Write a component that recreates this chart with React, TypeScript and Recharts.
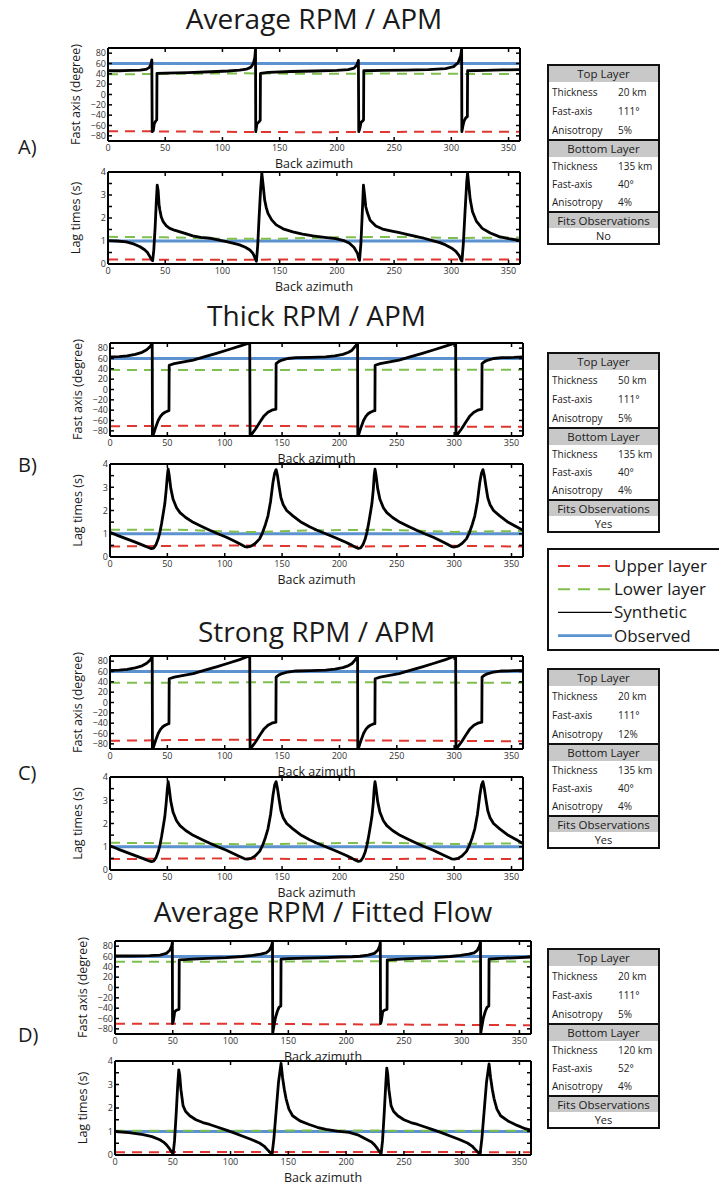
import { Line, LineChart, XAxis, YAxis } from "recharts";

type Pair = [number, number];

const FONT = "'Open Sans', 'DejaVu Sans', sans-serif";
const RED = "#e0362f";
const GREEN = "#7fbf4d";
const BLUE = "#5b92cf";
const INK = "#1a1a1a";

const azTicks = [0, 50, 100, 150, 200, 250, 300, 350];
const fastTicks = [-80, -60, -40, -20, 0, 20, 40, 60, 80];
const lagTicks = [0, 0.5, 1, 1.5, 2, 2.5, 3, 3.5, 4];

// observed splitting, identical in every panel
const observedFast: Pair[] = [[0, 60], [360, 60]];
const observedLag: Pair[] = [[0, 1], [360, 1]];

// A) Average RPM / APM
const synthFastA: Pair[] = [
  [0, 46], [10, 46], [20, 46.5], [28, 47], [33, 48.5], [36, 52], [37.5, 58], [38.3, 67],
  [38.6, -72], [39.6, -70], [40.4, -57], [41.8, -51], [42.6, -49], [42.8, 41], [50, 41.5],
  [70, 42.5], [90, 44], [105, 45.5], [115, 47], [121, 49], [125, 53], [127, 60], [128.3, 72],
  [128.9, 88], [129.1, -72], [130.1, -57], [131.9, -53], [133, -50], [133.2, 41], [140, 43],
  [160, 44.5], [180, 45.5], [200, 46.5], [210, 48], [215, 51], [217.5, 57], [218.8, 66],
  [219.1, -72], [220, -66], [221.1, -54], [222.6, -51], [223.3, -49], [223.5, 46], [240, 46.5],
  [260, 47], [280, 48], [295, 50], [302, 54], [306, 62], [308.2, 75], [309, 88], [309.2, -72],
  [310, -62], [311.2, -51], [312.7, -45], [314, -43], [314.2, 46], [330, 46.5], [345, 47.5], [360, 48],
];
const upperFastA: Pair[] = [[0, -71], [60, -71.5], [120, -72.5], [180, -73], [240, -72.5], [300, -72], [360, -72]];
const lowerFastA: Pair[] = [[0, 39], [60, 40], [120, 41], [180, 40], [240, 40.5], [300, 40], [360, 39.5]];
const synthLagA: Pair[] = [
  [0, 1.02], [8, 1.0], [16, 0.96], [23, 0.86], [28, 0.75], [32, 0.62], [34.5, 0.5], [36.6, 0.32],
  [38.2, 0.18], [39, 0.14], [40, 0.6], [41.2, 1.6], [42.2, 2.7], [43, 3.43], [43.8, 3.2],
  [44.6, 2.6], [45.3, 2.35], [46.5, 2.05], [48.2, 1.84], [51, 1.66], [54, 1.55], [58, 1.47],
  [63, 1.4], [68, 1.32], [74, 1.22], [81, 1.16], [89, 1.12], [96, 1.05], [103.5, 0.97],
  [110, 0.9], [115, 0.83], [120, 0.73], [124, 0.61], [126.5, 0.47], [128, 0.32], [129.2, 0.16],
  [129.7, 0.12], [130.8, 0.8], [132, 2.0], [133.3, 3.2], [134.4, 3.95], [135.4, 3.5],
  [136.9, 2.78], [138.3, 2.45], [139.8, 2.2], [143, 1.92], [147, 1.7], [153, 1.53],
  [161.5, 1.4], [170, 1.3], [179, 1.22], [189, 1.16], [199, 1.1], [206, 1.02], [211, 0.9],
  [215, 0.72], [218, 0.46], [219.3, 0.2], [219.8, 0.16], [221, 0.9], [222, 2.0], [223.2, 3.43],
  [224.2, 3.0], [225.2, 2.5], [226.5, 2.25], [229, 1.9], [234, 1.65], [240, 1.52], [247, 1.44],
  [254.6, 1.36], [262, 1.28], [269, 1.2], [276, 1.12], [283.5, 1.02], [290, 0.93], [295, 0.83],
  [300, 0.7], [304, 0.55], [307, 0.35], [308.6, 0.16], [309.3, 0.13], [310.5, 0.9], [312, 2.3],
  [313.5, 3.6], [314.2, 3.95], [315.3, 3.4], [316.5, 2.8], [318.5, 2.27], [322, 1.85],
  [327, 1.55], [334, 1.35], [341.8, 1.19], [350, 1.1], [360, 1.02],
];
const upperLagA: Pair[] = [[0, 0.2], [90, 0.18], [180, 0.2], [270, 0.2], [360, 0.2]];
const lowerLagA: Pair[] = [[0, 1.18], [50, 1.16], [100, 1.1], [150, 1.1], [200, 1.16], [250, 1.18], [300, 1.13], [360, 1.15]];

// B) Thick RPM / APM
const synthFastB: Pair[] = [
  [0, 63], [8, 63.5], [15, 65], [22, 68], [28, 72], [32, 77], [35, 83], [36.8, 89], [37, -89],
  [38, -86], [40, -72], [42, -60], [44, -52], [46, -47], [48, -44], [50, -42], [51.4, -41],
  [51.6, 47], [56, 50], [63, 53], [72.5, 57], [82, 63], [92.8, 70], [103, 77], [113, 84],
  [119, 88], [121.8, 90], [122.1, -89], [124, -85], [127, -76], [131, -62], [134, -52],
  [137.7, -44], [141, -40], [144.6, -38], [144.8, 50], [147, 54], [150, 57], [155, 60],
  [162, 61.5], [175, 62], [188, 63], [196, 65], [203, 68], [208, 72], [211, 76], [213.5, 83],
  [215.8, 89], [216, -89], [217, -86], [219, -72], [221, -60], [223, -52], [225, -47], [227, -44],
  [229, -42], [230.9, -41], [231.1, 47], [235.5, 50], [242.5, 53], [252, 57], [261.5, 63],
  [272.3, 70], [282.5, 77], [292.5, 84], [298.5, 88], [301.3, 90], [301.6, -89], [303.5, -85],
  [306.5, -76], [310.5, -62], [313.5, -52], [317.2, -44], [320.5, -40], [324.1, -38], [324.3, 50],
  [326.5, 54], [329.5, 57], [334.5, 60], [341.5, 61.5], [352, 62], [360, 63],
];
const upperFastB: Pair[] = [[0, -71], [90, -70], [180, -71], [270, -72], [360, -72]];
const lowerFastB: Pair[] = [[0, 38], [100, 37.5], [200, 38], [300, 38.5], [360, 38]];
const synthLagB: Pair[] = [
  [0, 1.06], [7, 0.92], [14.5, 0.78], [22, 0.64], [29, 0.5], [33, 0.42], [36, 0.36], [38, 0.38],
  [40, 0.52], [42, 0.78], [43.5, 1.06], [45, 1.45], [46.5, 1.9], [47.8, 2.3], [49, 2.9], [50, 3.5],
  [50.7, 3.78], [51.5, 3.55], [53, 2.95], [55, 2.48], [58, 2.12], [61, 1.91], [66, 1.7],
  [72.5, 1.49], [80, 1.31], [87, 1.15], [94, 1.0], [101.5, 0.85], [107, 0.72], [113, 0.57],
  [117.4, 0.45], [120, 0.43], [123, 0.47], [126.5, 0.58], [130.4, 0.78], [133, 1.05], [135.5, 1.4],
  [137.7, 1.77], [140, 2.4], [142, 3.19], [143.5, 3.6], [144.8, 3.76], [146, 3.5], [147.5, 3.0],
  [149, 2.55], [151, 2.25], [154, 2.0], [159.4, 1.77], [166, 1.52], [174, 1.3], [180, 1.16],
  [188, 1.0], [197, 0.82], [206, 0.62], [211, 0.5], [214, 0.42], [216.5, 0.37], [218.5, 0.39],
  [220.5, 0.53], [222.5, 0.79], [224, 1.07], [225.5, 1.46], [227, 1.9], [228.3, 2.3], [229.5, 2.9],
  [230.3, 3.5], [231, 3.78], [231.8, 3.55], [233.3, 2.95], [235.3, 2.48], [238.3, 2.12],
  [241.3, 1.91], [246.3, 1.7], [252.8, 1.49], [260.3, 1.31], [267.3, 1.15], [274.3, 1.0],
  [281.8, 0.85], [287.3, 0.72], [293.3, 0.57], [297.7, 0.45], [300.3, 0.43], [303.3, 0.47],
  [306.8, 0.58], [310.7, 0.78], [313.3, 1.05], [315.8, 1.4], [318, 1.77], [320.3, 2.4],
  [322.3, 3.19], [323.8, 3.6], [325.1, 3.76], [326.3, 3.5], [327.8, 3.0], [329.3, 2.55],
  [331.3, 2.25], [334.3, 2.0], [339.7, 1.77], [346.3, 1.52], [354.3, 1.3], [360, 1.15],
];
const upperLagB: Pair[] = [[0, 0.45], [100, 0.5], [200, 0.45], [300, 0.48], [360, 0.45]];
const lowerLagB: Pair[] = [[0, 1.17], [60, 1.17], [120, 1.07], [180, 1.15], [240, 1.17], [300, 1.08], [360, 1.12]];

// C) Strong RPM / APM
const synthFastC: Pair[] = [
  [0, 62], [8, 62.5], [15, 64], [22, 67], [28, 71], [32, 76], [35, 82], [36.8, 89], [37, -89],
  [38, -86], [40, -72], [42, -60], [44, -52], [46, -47], [48, -44], [50, -42], [51.4, -41],
  [51.6, 46], [56, 49], [63, 52], [72.5, 56], [82, 62], [92.8, 69], [103, 76], [113, 83],
  [119, 88], [121.8, 90], [122.1, -89], [124, -85], [127, -76], [131, -62], [134, -52],
  [137.7, -44], [141, -40], [144.6, -38], [144.8, 49], [147, 53], [150, 56], [155, 59],
  [162, 61], [175, 61.5], [188, 62.5], [196, 64.5], [203, 67.5], [208, 71.5], [211, 75.5],
  [213.5, 82], [215.8, 89], [216, -89], [217, -86], [219, -72], [221, -60], [223, -52], [225, -47],
  [227, -44], [229, -42], [230.9, -41], [231.1, 46], [235.5, 49], [242.5, 52], [252, 56],
  [261.5, 62], [272.3, 69], [282.5, 76], [292.5, 83], [298.5, 88], [301.3, 90], [301.6, -89],
  [303.5, -85], [306.5, -76], [310.5, -62], [313.5, -52], [317.2, -44], [320.5, -40], [324.1, -38],
  [324.3, 49], [326.5, 53], [329.5, 56], [334.5, 59], [341.5, 61], [352, 61.5], [360, 62],
];
const upperFastC: Pair[] = [[0, -74], [90, -72], [180, -73], [270, -74], [360, -75]];
const lowerFastC: Pair[] = [[0, 38], [120, 39], [240, 39], [360, 38]];
const synthLagC: Pair[] = [
  [0, 1.04], [7, 0.9], [14.5, 0.76], [22, 0.62], [29, 0.49], [33, 0.41], [36, 0.36], [38, 0.38],
  [40, 0.52], [42, 0.78], [43.5, 1.06], [45, 1.45], [46.5, 1.9], [47.8, 2.3], [49, 2.9], [50, 3.5],
  [50.7, 3.8], [51.5, 3.55], [53, 2.95], [55, 2.48], [58, 2.12], [61, 1.91], [66, 1.7],
  [72.5, 1.49], [80, 1.31], [87, 1.15], [94, 1.0], [101.5, 0.85], [107, 0.72], [113, 0.58],
  [117.4, 0.48], [120, 0.47], [123, 0.5], [126.5, 0.6], [130.4, 0.8], [133, 1.06], [135.5, 1.4],
  [137.7, 1.77], [140, 2.4], [142, 3.19], [143.5, 3.65], [144.8, 3.8], [146, 3.5], [147.5, 3.0],
  [149, 2.55], [151, 2.25], [154, 2.0], [159.4, 1.77], [166, 1.52], [174, 1.3], [180, 1.16],
  [188, 1.0], [197, 0.82], [206, 0.62], [211, 0.5], [214, 0.42], [216.5, 0.37], [218.5, 0.39],
  [220.5, 0.53], [222.5, 0.79], [224, 1.07], [225.5, 1.46], [227, 1.9], [228.3, 2.3], [229.5, 2.9],
  [230.3, 3.5], [231, 3.8], [231.8, 3.55], [233.3, 2.95], [235.3, 2.48], [238.3, 2.12],
  [241.3, 1.91], [246.3, 1.7], [252.8, 1.49], [260.3, 1.31], [267.3, 1.15], [274.3, 1.0],
  [281.8, 0.85], [287.3, 0.72], [293.3, 0.58], [297.7, 0.48], [300.3, 0.47], [303.3, 0.5],
  [306.8, 0.6], [310.7, 0.8], [313.3, 1.06], [315.8, 1.4], [318, 1.77], [320.3, 2.4],
  [322.3, 3.19], [323.8, 3.65], [325.1, 3.8], [326.3, 3.5], [327.8, 3.0], [329.3, 2.55],
  [331.3, 2.25], [334.3, 2.0], [339.7, 1.77], [346.3, 1.52], [354.3, 1.3], [360, 1.14],
];
const upperLagC: Pair[] = [[0, 0.47], [90, 0.5], [180, 0.47], [270, 0.48], [360, 0.47]];
const lowerLagC: Pair[] = [[0, 1.17], [60, 1.15], [120, 1.1], [180, 1.15], [240, 1.17], [300, 1.12], [360, 1.15]];

// D) Average RPM / Fitted Flow
const synthFastD: Pair[] = [
  [0, 61], [15, 61], [30, 61.5], [38.8, 62.5], [44.5, 66], [47.4, 72], [49, 80], [49.6, 87],
  [49.8, -70], [50.4, -66], [51.7, -47], [53, -44], [54.6, -43], [55.4, -42], [55.6, 53.5],
  [60, 54], [67.5, 55], [80, 56.5], [96.3, 58], [110, 60], [119, 62], [126, 64.5], [130.8, 67],
  [133.5, 72], [135.3, 80], [136.3, 88], [136.5, -88], [137.5, -75], [138.8, -59], [140.5, -46],
  [142, -38], [143.5, -36], [143.7, 55], [150, 56], [165, 57], [182.5, 58], [195, 59], [205, 59.5],
  [212, 60.5], [218.8, 62.5], [224.5, 66], [227.4, 72], [229, 80], [229.6, 87], [229.8, -70],
  [230.4, -66], [231.7, -47], [233, -44], [234.6, -43], [235.4, -42], [235.6, 53.5], [240, 54],
  [247.5, 55], [260, 56.5], [276.3, 58], [290, 60], [299, 62], [306, 64.5], [310.8, 67],
  [313.5, 72], [315.3, 80], [316.3, 88], [316.5, -88], [317.5, -75], [318.8, -59], [320.5, -46],
  [322, -38], [323.5, -36], [323.7, 55], [330, 56], [345, 57.5], [360, 59],
];
const upperFastD: Pair[] = [[0, -70], [90, -70], [180, -71], [270, -72], [360, -73]];
const lowerFastD: Pair[] = [[0, 50], [120, 50], [240, 51], [360, 50]];
const synthLagD: Pair[] = [
  [0, 1.0], [12, 0.95], [24.4, 0.87], [32, 0.78], [38.8, 0.65], [42, 0.55], [44.6, 0.43],
  [47, 0.28], [48.9, 0.14], [50.3, 0.05], [51.5, 0.6], [53, 1.8], [54.3, 3.0], [55.2, 3.62],
  [56, 3.4], [57, 2.8], [58.9, 2.1], [61, 1.86], [64.7, 1.67], [70, 1.5], [76, 1.38], [81.9, 1.3],
  [89, 1.18], [96.3, 1.06], [103, 0.94], [110.6, 0.8], [118, 0.66], [125, 0.51], [129, 0.38],
  [132, 0.22], [134.5, 0.1], [136, 0.07], [137.5, 0.7], [139.5, 1.9], [141.5, 3.1], [143.7, 3.9],
  [145, 3.3], [146.5, 2.8], [148, 2.4], [150.5, 1.95], [153.7, 1.67], [160, 1.45], [168, 1.3],
  [175, 1.18], [182.5, 1.09], [192, 1.02], [202.6, 0.96], [210, 0.86], [217, 0.68], [222, 0.55],
  [224.6, 0.43], [227, 0.28], [228.9, 0.14], [230.3, 0.05], [231.5, 0.6], [233, 1.8], [234.3, 3.0],
  [235.2, 3.7], [236, 3.45], [237, 2.8], [238.9, 2.1], [241, 1.86], [244.7, 1.67], [250, 1.5],
  [256, 1.38], [261.9, 1.3], [269, 1.18], [276.3, 1.06], [283, 0.94], [290.6, 0.8], [298, 0.66],
  [305, 0.51], [309, 0.38], [312, 0.22], [314.5, 0.1], [316, 0.07], [317.5, 0.7], [319.5, 1.9],
  [321.5, 3.1], [323.7, 3.88], [325, 3.3], [326.5, 2.8], [328, 2.4], [330.5, 1.95], [333.7, 1.67],
  [340, 1.45], [348, 1.26], [355, 1.12], [360, 1.05],
];
const upperLagD: Pair[] = [[0, 0.12], [180, 0.13], [360, 0.12]];
const lowerLagD: Pair[] = [[0, 1.03], [180, 1.04], [360, 1.03]];

// model parameter tables
const layerFields = ["Thickness", "Fast-axis", "Anisotropy"];
const topLayerA = ["20 km", "111°", "5%"];
const bottomLayerA = ["135 km", "40°", "4%"];
const topLayerB = ["50 km", "111°", "5%"];
const bottomLayerB = ["135 km", "40°", "4%"];
const topLayerC = ["20 km", "111°", "12%"];
const bottomLayerC = ["135 km", "40°", "4%"];
const topLayerD = ["20 km", "111°", "5%"];
const bottomLayerD = ["120 km", "52°", "4%"];

const legendLabels = ["Upper layer", "Lower layer", "Synthetic", "Observed"];

type Series = { synth: Pair[]; upper: Pair[]; lower: Pair[] };

const panels = [
  {
    letter: "A)", title: "Average RPM / APM", titleY: 29, letterY: 154, x: 108, w: 412, fastTop: 48,
    lagTop: 172, lagH: 92, tableTop: 64, fits: "No", top: topLayerA, bottom: bottomLayerA,
    fast: { synth: synthFastA, upper: upperFastA, lower: lowerFastA },
    lag: { synth: synthLagA, upper: upperLagA, lower: lowerLagA },
  },
  {
    letter: "B)", title: "Thick RPM / APM", titleY: 326, letterY: 472, x: 110, w: 413, fastTop: 343,
    lagTop: 464, lagH: 93, tableTop: 352, fits: "Yes", top: topLayerB, bottom: bottomLayerB,
    fast: { synth: synthFastB, upper: upperFastB, lower: lowerFastB },
    lag: { synth: synthLagB, upper: upperLagB, lower: lowerLagB },
  },
  {
    letter: "C)", title: "Strong RPM / APM", titleY: 642, letterY: 780, x: 110, w: 413, fastTop: 656,
    lagTop: 777, lagH: 93, tableTop: 668, fits: "Yes", top: topLayerC, bottom: bottomLayerC,
    fast: { synth: synthFastC, upper: upperFastC, lower: lowerFastC },
    lag: { synth: synthLagC, upper: upperLagC, lower: lowerLagC },
  },
  {
    letter: "D)", title: "Average RPM / Fitted Flow", titleY: 922, letterY: 1042, x: 115, w: 416, fastTop: 941,
    lagTop: 1061, lagH: 94, tableTop: 948, fits: "Yes", top: topLayerD, bottom: bottomLayerD,
    fast: { synth: synthFastD, upper: upperFastD, lower: lowerFastD },
    lag: { synth: synthLagD, upper: upperLagD, lower: lowerLagD },
  },
];

const FAST_H = 93;
// room around each plot box for the axes: left labels, bottom labels, top/right frame axes
const AX = { left: 30, bottom: 16, top: 1, right: 1 };
const M = { top: 8, right: 4, bottom: 2, left: 0 };

const rows = (p: Pair[]) => p.map(([az, v]) => ({ az, v }));
const fmt = (v: number) => (v < 0 ? `\u2212${-v}` : `${v}`);

const tickText = { fontSize: 9, fill: "#333", fontFamily: FONT };

const bottomTick = (p: any) => (
  <g>
    <line x1={p.x} x2={p.x} y1={p.y} y2={p.y - 4} stroke="#000" strokeWidth={1.5} />
    <text x={p.x} y={p.y + 9.5} textAnchor="middle" {...tickText}>{p.payload.value}</text>
  </g>
);
const topTick = (p: any) => <line x1={p.x} x2={p.x} y1={p.y} y2={p.y + 4} stroke="#000" strokeWidth={1.5} />;
const rightTick = (p: any) => <line x1={p.x} x2={p.x - 4} y1={p.y} y2={p.y} stroke="#000" strokeWidth={1.5} />;
const leftTick = (p: any) => {
  const v = p.payload.value as number;
  return (
    <g>
      <line x1={p.x} x2={p.x + 4} y1={p.y} y2={p.y} stroke="#000" strokeWidth={1.5} />
      {Number.isInteger(v) && (
        <text x={p.x - 2} y={p.y + 3.3} textAnchor="end" {...tickText}>{fmt(v)}</text>
      )}
    </g>
  );
};

const frame = { stroke: "#000", strokeWidth: 2 };

function SplitPlot({ x, y, w, h, domain, ticks, s }: {
  x: number; y: number; w: number; h: number; domain: [number, number]; ticks: number[]; s: Series;
}) {
  const observed = domain[1] > 10 ? observedFast : observedLag;
  const left = M.left + AX.left;
  const top = M.top + AX.top;
  return (
    <div style={{ position: "absolute", left: x - left, top: y - top }}>
      <LineChart width={left + w + AX.right + M.right} height={top + h + AX.bottom + M.bottom} margin={M}>
        <XAxis xAxisId="b" type="number" dataKey="az" domain={[0, 360]} ticks={azTicks} interval={0}
          allowDataOverflow height={AX.bottom} tickSize={0} tickMargin={0} tickLine={false} axisLine={frame} tick={bottomTick} />
        <XAxis xAxisId="t" orientation="top" type="number" dataKey="az" domain={[0, 360]} ticks={azTicks} interval={0}
          allowDataOverflow height={AX.top} tickSize={0} tickMargin={0} tickLine={false} axisLine={frame} tick={topTick} />
        <YAxis yAxisId="l" type="number" domain={domain} ticks={ticks} interval={0} allowDataOverflow
          width={AX.left} tickSize={0} tickMargin={0} tickLine={false} axisLine={frame} tick={leftTick} />
        <YAxis yAxisId="r" orientation="right" type="number" domain={domain} ticks={ticks} interval={0}
          allowDataOverflow width={AX.right} tickSize={0} tickMargin={0} tickLine={false} axisLine={frame} tick={rightTick} />
        <Line xAxisId="b" yAxisId="l" data={rows(observed)} dataKey="v" stroke={BLUE} strokeWidth={3}
          dot={false} activeDot={false} isAnimationActive={false} />
        <Line xAxisId="b" yAxisId="l" data={rows(s.lower)} dataKey="v" stroke={GREEN} strokeWidth={2}
          strokeDasharray="10 7" dot={false} activeDot={false} isAnimationActive={false} />
        <Line xAxisId="b" yAxisId="l" data={rows(s.upper)} dataKey="v" stroke={RED} strokeWidth={2}
          strokeDasharray="10 7" dot={false} activeDot={false} isAnimationActive={false} />
        <Line xAxisId="b" yAxisId="l" data={rows(s.synth)} dataKey="v" stroke="#000" strokeWidth={2.8}
          strokeLinejoin="round" dot={false} activeDot={false} isAnimationActive={false} />
      </LineChart>
    </div>
  );
}

const headerStyle = {
  background: "#c8c8c8", height: 16, lineHeight: "16px", textAlign: "center" as const,
  fontSize: 11.5, color: INK,
};

function ParamTable({ left, top, upper, lower, fits }: {
  left: number; top: number; upper: string[]; lower: string[]; fits: string;
}) {
  const body = (vals: string[], h: number) =>
    layerFields.map((f, i) => (
      <div key={f} style={{ display: "flex", height: h, alignItems: "center", fontSize: 10, color: INK }}>
        <span style={{ width: 66, paddingLeft: 3 }}>{f}</span>
        <span>{vals[i]}</span>
      </div>
    ));
  return (
    <div style={{
      position: "absolute", left, top, width: 113, boxSizing: "border-box", border: "2px solid #111",
      background: "#fff", fontFamily: FONT,
    }}>
      <div style={headerStyle}>Top Layer</div>
      {body(upper, 19)}
      <div style={{ ...headerStyle, borderTop: "2px solid #111" }}>Bottom Layer</div>
      {body(lower, 18)}
      <div style={{ ...headerStyle, borderTop: "2px solid #111", height: 15, lineHeight: "15px" }}>Fits Observations</div>
      <div style={{ height: 15, lineHeight: "15px", textAlign: "center", fontSize: 11, color: INK }}>{fits}</div>
    </div>
  );
}

export default function App() {
  const legendStyles = [
    { stroke: RED, width: 2, dash: "12 8" },
    { stroke: GREEN, width: 2, dash: "12 8" },
    { stroke: "#000", width: 1.4, dash: undefined },
    { stroke: BLUE, width: 2.6, dash: undefined },
  ];
  return (
    <div style={{
      position: "absolute", left: 0, top: 0, width: 719, height: 1185, overflow: "hidden",
      background: "#fff", fontFamily: FONT,
    }}>
      {panels.map((p) => (
        <div key={p.letter}>
          <SplitPlot x={p.x} y={p.fastTop} w={p.w} h={FAST_H} domain={[-90, 90]} ticks={fastTicks} s={p.fast} />
          <SplitPlot x={p.x} y={p.lagTop} w={p.w} h={p.lagH} domain={[0, 4]} ticks={lagTicks} s={p.lag} />
          <ParamTable left={547} top={p.tableTop} upper={p.top} lower={p.bottom} fits={p.fits} />
        </div>
      ))}
      <svg width={719} height={1185} style={{ position: "absolute", left: 0, top: 0, pointerEvents: "none" }}
        fontFamily={FONT} fill={INK}>
        {panels.map((p) => {
          const cx = p.x + p.w / 2;
          const labelX = p.x - 33;
          return (
            <g key={p.letter}>
              <text x={cx} y={p.titleY} textAnchor="middle" fontSize={28}>{p.title}</text>
              <text x={18} y={p.letterY} fontSize={20}>{p.letter}</text>
              <text transform={`translate(${labelX} ${p.fastTop + FAST_H / 2}) rotate(-90)`} textAnchor="middle"
                dominantBaseline="central" fontSize={12.5}>Fast axis (degree)</text>
              <text transform={`translate(${labelX} ${p.lagTop + p.lagH / 2}) rotate(-90)`} textAnchor="middle"
                dominantBaseline="central" fontSize={12.5}>Lag times (s)</text>
              <text x={cx} y={p.fastTop + FAST_H + 26.5} textAnchor="middle" fontSize={12.5}>Back azimuth</text>
              <text x={cx} y={p.lagTop + p.lagH + 26.5} textAnchor="middle" fontSize={12.5}>Back azimuth</text>
            </g>
          );
        })}
        <rect x={548} y={549} width={200} height={101} fill="none" stroke="#111" strokeWidth={2} />
        {legendLabels.map((label, i) => {
          const ly = 566 + i * 23.2;
          const st = legendStyles[i];
          return (
            <g key={label}>
              <line x1={558} x2={612} y1={ly} y2={ly} stroke={st.stroke} strokeWidth={st.width} strokeDasharray={st.dash} />
              <text x={614} y={ly + 6} fontSize={17}>{label}</text>
            </g>
          );
        })}
      </svg>
    </div>
  );
}
